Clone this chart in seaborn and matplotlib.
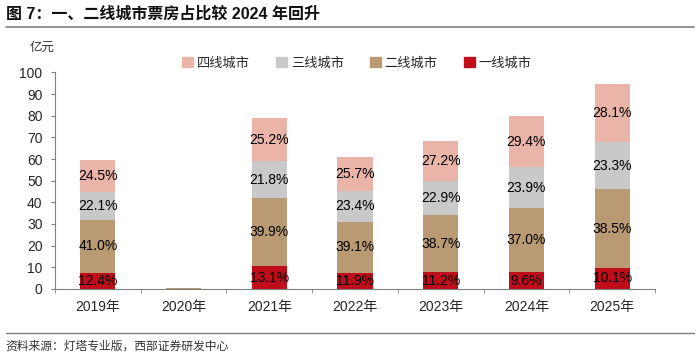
import matplotlib
matplotlib.use("Agg")
import matplotlib.pyplot as plt
import matplotlib.patches as mpatches
import seaborn as sns
import pandas as pd
import numpy as np

# --- datos ---
years = ['2019年', '2020年', '2021年', '2022年', '2023年', '2024年', '2025年']
totals = [59.5, 0.5, 78.9, 61.0, 68.4, 79.8, 94.5]   # 亿元
share_t1 = [12.4, 10.0, 13.1, 11.9, 11.2, 9.6, 10.1]
share_t2 = [41.0, 40.0, 39.9, 39.1, 38.7, 37.0, 38.5]
share_t3 = [22.1, 25.0, 21.8, 23.4, 22.9, 23.9, 23.3]
share_t4 = [24.5, 25.0, 25.2, 25.7, 27.2, 29.4, 28.1]
show_labels = [True, False, True, True, True, True, True]

series_names = ['一线城市', '二线城市', '三线城市', '四线城市']
colors = ['#C00D1A', '#B99A73', '#C9C9C9', '#EBB4A8']

sns.set_style("white")
plt.rcParams['font.family'] = ['Liberation Sans', 'Noto Sans CJK SC', 'DejaVu Sans']

tot = np.array(totals)
shares = [np.array(s) for s in (share_t1, share_t2, share_t3, share_t4)]
segs = [tot * s / 100 for s in shares]
cum = np.cumsum(segs, axis=0)

df = pd.DataFrame({'year': years})
for i in range(4):
    df[f'c{i}'] = cum[i]

fig = plt.figure(figsize=(7, 3.57), dpi=100)
ax = fig.add_axes([0.0786, 0.191, 0.857, 0.606])

# barras apiladas: se dibujan de arriba hacia abajo
for i in [3, 2, 1, 0]:
    sns.barplot(data=df, x='year', y=f'c{i}', color=colors[i], width=0.41,
                saturation=1, ax=ax, linewidth=0)

# etiquetas de porcentaje
for j in range(len(years)):
    if not show_labels[j]:
        continue
    for i in range(4):
        base = cum[i][j] - segs[i][j]
        ax.text(j, base + segs[i][j] / 2, f'{shares[i][j]:.1f}%',
                ha='center', va='center', fontsize=10, color='black')

ax.set_ylim(0, 100)
ax.set_xlim(-0.5, len(years) - 0.5)
ax.set_yticks(range(0, 101, 10))
ax.set_xlabel('')
ax.set_ylabel('')
ax.tick_params(axis='y', labelsize=10, length=3, direction='out', left=True, color='#808080', pad=6)
ax.tick_params(axis='x', labelsize=10, length=0, pad=8)
ax.set_xticks(np.arange(-0.5, len(years), 1), minor=True)
ax.tick_params(axis='x', which='minor', length=3, bottom=True, color='#808080')
for s in ['top', 'right']:
    ax.spines[s].set_visible(False)
for s in ['left', 'bottom']:
    ax.spines[s].set_color('#808080')
    ax.spines[s].set_linewidth(0.8)

fig.text(0.043, 0.865, '亿元', fontsize=9, ha='left', va='center', color='#333333')

handles = [mpatches.Patch(color=colors[i], label=series_names[i]) for i in [3, 2, 1, 0]]
fig.legend(handles=handles, loc='center', bbox_to_anchor=(0.51, 0.822), ncol=4,
           frameon=False, fontsize=9.5, handlelength=0.8, handleheight=0.8,
           handletextpad=0.3, columnspacing=2.0)

# titulo y fuente
fig.text(0.008, 0.962, '图 7：一、二线城市票房占比较 2024 年回升', fontsize=11.5,
         ha='left', va='center', color='#111111', fontweight='bold')
fig.add_artist(plt.Line2D([0.008, 0.992], [0.925, 0.925], color='#808080', linewidth=1.2))
fig.add_artist(plt.Line2D([0.008, 0.992], [0.068, 0.068], color='#808080', linewidth=1.0))
fig.text(0.008, 0.03, '资料来源：灯塔专业版，西部证券研发中心', fontsize=8.5,
         ha='left', va='center', color='#333333')

fig.savefig('out.png', dpi=100)
